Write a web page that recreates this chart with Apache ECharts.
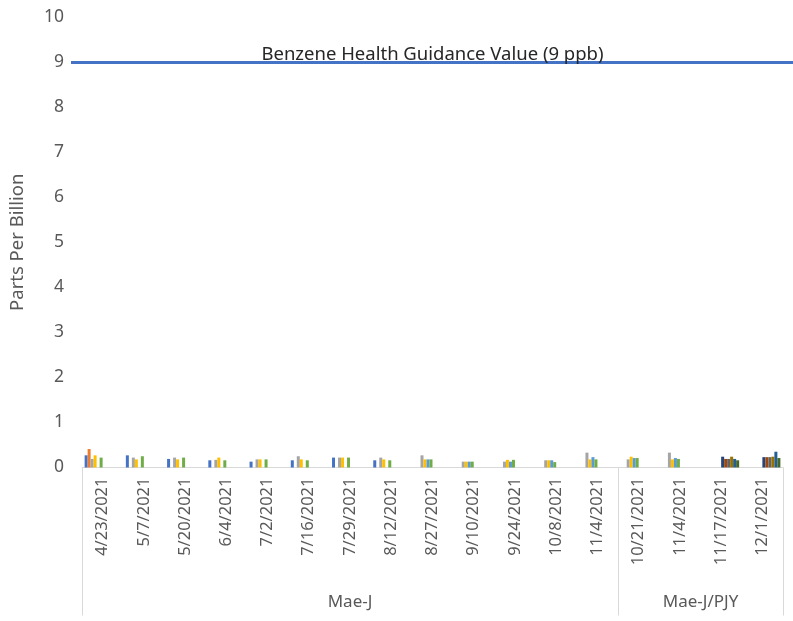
<!DOCTYPE html>
<html>
<head>
<meta charset="utf-8">
<script src="https://cdn.jsdelivr.net/npm/echarts@6/dist/echarts.min.js"></script>
<style>
  html, body { margin: 0; padding: 0; background: #fff; }
  #main { width: 793px; height: 621px; }
</style>
</head>
<body>
<div id="main"></div>
<script>
const dates = ['4/23/2021', '5/7/2021', '5/20/2021', '6/4/2021', '7/2/2021', '7/16/2021', '7/29/2021',
  '8/12/2021', '8/27/2021', '9/10/2021', '9/24/2021', '10/8/2021', '11/4/2021',
  '10/21/2021', '11/4/2021', '11/17/2021', '12/1/2021'];
const groupNames = ['Mae-J', 'Mae-J/PJY'];
const groupSizes = [13, 4];
const yTicks = [0, 1, 2, 3, 4, 5, 6, 7, 8, 9, 10];
const guideValue = 9;
const guideLabel = 'Benzene Health Guidance Value (9 ppb)';

const s1 = [0.27, 0.27, 0.19, 0.16, 0.13, 0.16, 0.22, 0.16, null, null, null, null, null, null, null, null, null];
const s2 = [0.41, null, null, null, null, null, null, null, null, null, null, null, null, null, null, null, null];
const s3 = [0.19, 0.22, 0.22, 0.17, 0.18, 0.25, 0.22, 0.22, 0.27, 0.13, 0.13, 0.16, 0.33, 0.18, 0.33, null, null];
const s4 = [0.27, 0.18, 0.18, 0.22, 0.18, 0.18, 0.22, 0.18, 0.18, 0.13, 0.17, 0.16, 0.18, 0.24, 0.18, null, null];
const s5 = [null, null, null, null, null, null, null, null, 0.18, 0.13, 0.13, 0.16, 0.23, 0.21, 0.21, null, null];
const s6 = [0.22, 0.25, 0.22, 0.16, 0.18, 0.16, 0.22, 0.16, 0.18, 0.13, 0.17, 0.12, 0.18, 0.21, 0.19, null, null];
const s7 = [null, null, null, null, null, null, null, null, null, null, null, null, null, null, null, 0.24, 0.23];
const s8 = [null, null, null, null, null, null, null, null, null, null, null, null, null, null, null, 0.19, 0.23];
const s9 = [null, null, null, null, null, null, null, null, null, null, null, null, null, null, null, 0.19, 0.23];
const s10 = [null, null, null, null, null, null, null, null, null, null, null, null, null, null, null, 0.24, 0.24];
const s11 = [null, null, null, null, null, null, null, null, null, null, null, null, null, null, null, 0.19, 0.35];
const s12 = [null, null, null, null, null, null, null, null, null, null, null, null, null, null, null, 0.16, 0.21];

const seriesData = [s1, s2, s3, s4, s5, s6, s7, s8, s9, s10, s11, s12];
const colors = ['#4472C4', '#ED7D31', '#A5A5A5', '#FFC000', '#5B9BD5', '#70AD47',
  '#264478', '#9E480E', '#636363', '#997300', '#255E91', '#43682B'];

// group boundaries and centres for the second label row
let groupTicks = [0];
let groupCenters = [];
let acc = 0;
for (let i = 0; i < groupSizes.length; i++) {
  groupCenters.push(acc + groupSizes[i] / 2);
  acc += groupSizes[i];
  groupTicks.push(acc);
}

const font = 'Noto Sans';
const gridColor = '#d9d9d9';
const textColor = '#595959';

const chart = echarts.init(document.getElementById('main'), null, { renderer: 'canvas' });

let series = seriesData.map((d, i) => {
  let s = {
    name: 'Series ' + (i + 1),
    type: 'bar',
    data: d,
    barWidth: 3,
    barGap: '0%',
    itemStyle: { color: colors[i] }
  };
  if (i === 0) {
    s.markLine = {
      silent: true,
      symbol: 'none',
      lineStyle: { color: '#4472C4', width: 3, type: 'solid' },
      label: {
        show: true,
        position: 'insideMiddleTop',
        distance: -2,
        formatter: guideLabel,
        fontFamily: font,
        fontSize: 18.5,
        color: '#262626'
      },
      data: [{ yAxis: guideValue }]
    };
  }
  return s;
});

const option = {
  animation: false,
  grid: { left: 79, right: 10, top: 17, bottom: 153.5 },
  xAxis: [
    {
      type: 'category',
      data: dates,
      axisLine: { lineStyle: { color: gridColor, width: 1 } },
      axisTick: { show: false },
      axisLabel: {
        interval: 0,
        rotate: 90,
        margin: 10,
        fontFamily: font,
        fontSize: 16.5,
        color: textColor
      }
    },
    {
      type: 'value',
      min: 0,
      max: acc,
      position: 'bottom',
      axisLine: { show: false },
      splitLine: { show: false },
      axisTick: {
        show: true,
        customValues: groupTicks,
        length: 148,
        lineStyle: { color: gridColor, width: 1 }
      },
      axisLabel: {
        customValues: groupCenters,
        margin: 126,
        fontFamily: font,
        fontSize: 17,
        color: textColor,
        formatter: function (v) {
          let idx = groupCenters.indexOf(v);
          return idx >= 0 ? groupNames[idx] : '';
        }
      }
    }
  ],
  yAxis: [
    {
      type: 'value',
      min: yTicks[0],
      max: yTicks[yTicks.length - 1],
      interval: 1,
      name: 'Parts Per Billion',
      nameLocation: 'middle',
      nameGap: 55,
      nameTextStyle: { fontFamily: font, fontSize: 18.5, color: textColor },
      axisLine: { show: false },
      axisTick: {
        show: true,
        customValues: [guideValue],
        length: 11,
        lineStyle: { color: '#4472C4', width: 3 }
      },
      axisLabel: { margin: 18, fontFamily: font, fontSize: 17.5, color: textColor },
      splitLine: { lineStyle: { color: gridColor, width: 1 } }
    },
    {
      type: 'value',
      position: 'right',
      min: yTicks[0],
      max: yTicks[yTicks.length - 1],
      interval: 1,
      axisLine: { show: false },
      axisLabel: { show: false },
      splitLine: { show: false },
      axisTick: {
        show: true,
        customValues: [guideValue],
        length: 10,
        lineStyle: { color: '#4472C4', width: 3 }
      }
    }
  ],
  series: series
};

chart.setOption(option);
</script>
</body>
</html>
